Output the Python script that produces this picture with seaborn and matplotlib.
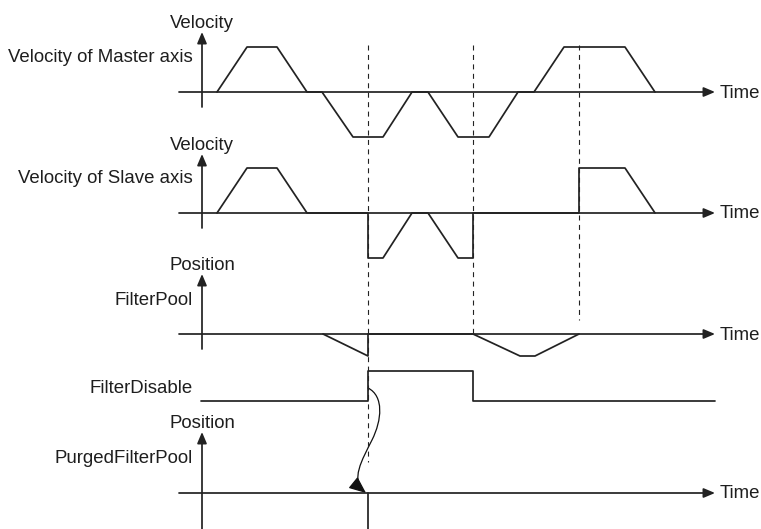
import matplotlib
matplotlib.use("Agg")
import matplotlib.pyplot as plt
import seaborn as sns
from matplotlib.path import Path
from matplotlib.patches import FancyArrowPatch

# --- signal data (time in drawing units, level in -1..1) ---
master_t = [217, 247, 277, 307, 322, 353, 383, 412, 428, 458, 489, 518, 534, 564, 625, 655]
master_v = [0, 1, 1, 0, 0, -1, -1, 0, 0, -1, -1, 0, 0, 1, 1, 0]

slave_t = [217, 247, 277, 307, 368, 368, 383, 412, 428, 458, 473, 473, 579, 579, 625, 655]
slave_v = [0, 1, 1, 0, 0, -1, -1, 0, 0, -1, -1, 0, 0, 1, 1, 0]

pool_t = [323, 368, 368, 473, 520, 535, 579]
pool_v = [0, -1, 0, 0, -1, -1, 0]

disable_t = [201, 368, 368, 473, 473, 715]
disable_v = [0, 0, 1, 1, 0, 0]

event_t = [368, 473, 579]

# --- layout ---
AX_X = 202
T_START, T_END = 179, 715
LBL_X = 193
panels = {
    # name: (baseline y, amplitude, axis top, axis bottom)
    "master": (92, 45, 32, 107),
    "slave": (213, 45, 154, 228),
    "pool": (334, 22, 274, 349),
    "purged": (493, 22, 432, 529),
}
DIS_Y, DIS_AMP = 401, 30
FONT = 13.4
TXT = "#1e1e1e"
SIG = "#222222"
LW = 1.25
HEAD = "-|>,head_length=0.52,head_width=0.22"

sns.set_theme(style="white")
plt.rcParams["font.family"] = ["Liberation Sans", "DejaVu Sans"]

fig = plt.figure(figsize=(7.61, 5.29), dpi=100)
ax = fig.add_axes([0, 0, 1, 1])
ax.set_xlim(0, 761)
ax.set_ylim(529, 0)
ax.axis("off")


def arrow(x0, y0, x1, y1):
    ax.annotate("", xy=(x1, y1), xytext=(x0, y0),
                arrowprops=dict(arrowstyle=HEAD, color=SIG, lw=LW,
                                mutation_scale=13, shrinkA=0, shrinkB=0))


# dashed event markers
dash = dict(ls=(0, (4.5, 4)), color=SIG, lw=0.8)
ax.plot([event_t[0]] * 2, [45, 462], **dash)
ax.plot([event_t[1]] * 2, [45, 334], **dash)
ax.plot([event_t[2]] * 2, [45, 320], **dash)


def signal(t, v, panel):
    by, amp = panels[panel][0], panels[panel][1]
    y = [by - a * amp for a in v]
    sns.lineplot(x=t, y=y, ax=ax, sort=False, estimator=None, color=SIG, lw=LW)


signal(master_t, master_v, "master")
signal(slave_t, slave_v, "slave")
signal(pool_t, pool_v, "pool")
sns.lineplot(x=disable_t, y=[DIS_Y - a * DIS_AMP for a in disable_v], ax=ax,
             sort=False, estimator=None, color=SIG, lw=LW)
# PurgedFilterPool jumps to zero at the FilterDisable edge
ax.plot([event_t[0]] * 2, [panels["purged"][0], 529], color=SIG, lw=LW)

# axes of each panel (drawn over the signals so the zero lines look even)
for name, (by, amp, top, bot) in panels.items():
    arrow(AX_X, bot, AX_X, top)
    arrow(T_START, by, T_END, by)
    ax.text(T_END + 5, by + 1, "Time", fontsize=FONT, va="center", ha="left", color=TXT)

# S-shaped causal arrow from FilterDisable to PurgedFilterPool
verts = [(368, 388), (384, 396), (382, 420), (372, 440),
         (362, 460), (350, 480), (366, 493)]
codes = [Path.MOVETO] + [Path.CURVE4] * 6
ax.add_patch(FancyArrowPatch(path=Path(verts, codes), arrowstyle=HEAD,
                             mutation_scale=20, color="#111", lw=0.9))

# labels
lbl = dict(fontsize=FONT, va="baseline", color=TXT)
ax.text(AX_X, 28, "Velocity", ha="center", **lbl)
ax.text(LBL_X, 62, "Velocity of Master axis", ha="right", **lbl)
ax.text(AX_X, 150, "Velocity", ha="center", **lbl)
ax.text(LBL_X, 183, "Velocity of Slave axis", ha="right", **lbl)
ax.text(AX_X, 270, "Position", ha="center", **lbl)
ax.text(LBL_X, 305, "FilterPool", ha="right", **lbl)
ax.text(LBL_X, 393, "FilterDisable", ha="right", **lbl)
ax.text(AX_X, 428, "Position", ha="center", **lbl)
ax.text(LBL_X, 463, "PurgedFilterPool", ha="right", **lbl)

fig.savefig("out.png", dpi=100)
